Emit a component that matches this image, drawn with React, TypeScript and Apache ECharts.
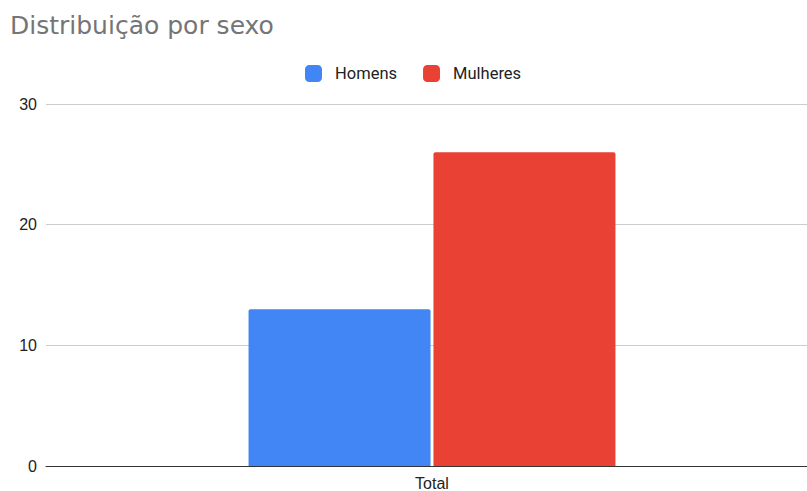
import React, { useEffect, useRef } from "react";
import * as echarts from "echarts";

const categories = ["Total"];
const seriesNames = ["Homens", "Mulheres"];
const homens = [13];
const mulheres = [26];
const yTicks = [0, 10, 20, 30];

export default function App() {
  const ref = useRef<HTMLDivElement>(null);
  useEffect(() => {
    if (!ref.current) return;
    const chart = echarts.init(ref.current, undefined, { renderer: "svg" });
    chart.setOption({
      animation: false,
      backgroundColor: "#ffffff",
      title: {
        text: "Distribuição por sexo",
        left: 5,
        top: 8,
        textStyle: {
          fontFamily: "DejaVu Sans, sans-serif",
          fontSize: 25,
          fontWeight: "normal",
          color: "#757575",
        },
      },
      legend: {
        left: 300,
        top: 60,
        itemWidth: 17,
        itemHeight: 17,
        itemGap: 26,
        icon: "roundRect",
        data: seriesNames,
        textStyle: {
          fontFamily: "Roboto, sans-serif",
          fontSize: 16.5,
          color: "#222222",
          padding: [0, 0, 0, 8],
        },
      },
      grid: { left: 46, right: 0, top: 104, bottom: 24, containLabel: false },
      xAxis: {
        type: "category",
        data: categories,
        axisTick: { show: false },
        axisLine: { show: true, lineStyle: { color: "#333333", width: 1 } },
        axisLabel: {
          margin: 9,
          fontFamily: "Liberation Sans, Arial, sans-serif",
          fontSize: 16,
          color: "#222222",
        },
      },
      yAxis: {
        type: "value",
        min: yTicks[0],
        max: yTicks[yTicks.length - 1],
        interval: 10,
        axisLine: { show: false },
        axisTick: { show: false },
        splitLine: { lineStyle: { color: "#cccccc", width: 1 } },
        axisLabel: {
          margin: 9,
          fontFamily: "Liberation Sans, Arial, sans-serif",
          fontSize: 16,
          color: "#222222",
        },
      },
      series: [
        {
          name: seriesNames[0],
          type: "bar",
          data: homens,
          barWidth: 182,
          barGap: "1.6%",
          itemStyle: { color: "#4285F4", borderRadius: [2, 2, 0, 0] },
        },
        {
          name: seriesNames[1],
          type: "bar",
          data: mulheres,
          barWidth: 182,
          barGap: "1.6%",
          itemStyle: { color: "#E94235", borderRadius: [2, 2, 0, 0] },
        },
      ],
    });
    return () => chart.dispose();
  }, []);
  return (
    <div
      style={{
        position: "fixed",
        left: 0,
        top: 0,
        width: 807,
        height: 491,
        overflow: "hidden",
        background: "#ffffff",
      }}
    >
      <div ref={ref} style={{ width: 818, height: 491 }} />
    </div>
  );
}
